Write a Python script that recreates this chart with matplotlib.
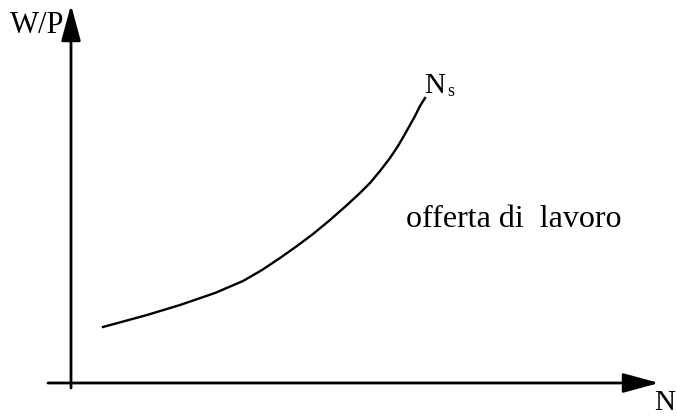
import matplotlib.pyplot as plt

# labour supply curve, drawn in page units (x right, y down)
curve_x = [103, 125, 147, 180, 215, 243, 262, 280, 297, 313, 330, 347, 360, 370,
           380, 390, 398, 405, 410, 415, 420, 425]
curve_y = [327, 321, 315, 305, 293, 281, 270, 258, 246, 234, 220, 205, 193, 183,
           171, 158, 146, 134, 125, 116, 106, 98]

fig = plt.figure(figsize=(6.77, 4.16), dpi=100)
ax = fig.add_axes([0, 0, 1, 1])
ax.set_xlim(0, 677)
ax.set_ylim(416, 0)
ax.axis("off")

arrow = dict(arrowstyle="-|>,head_length=2.2,head_width=0.6", color="black",
             lw=2, shrinkA=0, shrinkB=0)
ax.annotate("", xy=(71, 5), xytext=(71, 388), arrowprops=arrow)
ax.annotate("", xy=(659, 383), xytext=(48, 383), arrowprops=arrow)

ax.plot(curve_x, curve_y, color="black", lw=1.7, solid_joinstyle="round")

font = dict(family="Liberation Serif", color="black")
ax.text(10, 33, "W/P", fontsize=22, ha="left", va="baseline", **font)
ax.text(675, 410, "N", fontsize=21, ha="right", va="baseline", **font)
ax.text(424, 93, "N", fontsize=21, ha="left", va="baseline", **font)
ax.text(447, 96, "s", fontsize=13, ha="left", va="baseline", **font)
ax.text(406, 227, "offerta di  lavoro", fontsize=23, ha="left", va="baseline", **font)

fig.savefig("out.png", dpi=100)
